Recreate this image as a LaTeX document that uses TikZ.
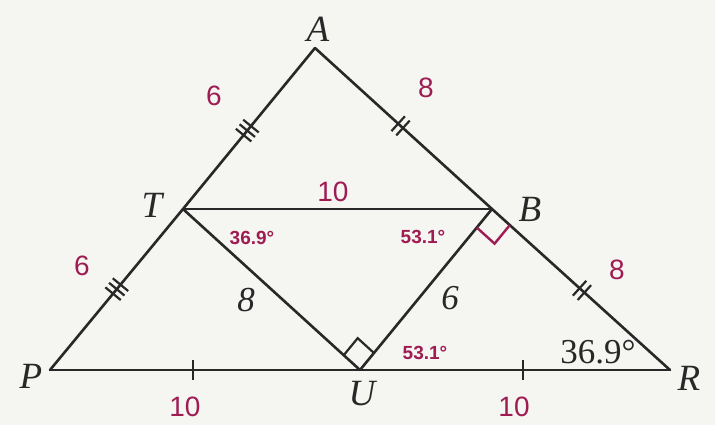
\documentclass[tikz,border=0pt]{standalone}
\usepackage{fontspec}
\setmainfont{Liberation Serif}
\newfontfamily\hand{Liberation Sans}
\usetikzlibrary{calc}
\definecolor{bgc}{RGB}{245,245,242}
\definecolor{ink}{RGB}{40,40,40}
\definecolor{pen}{RGB}{158,28,82}
\tikzset{
  seg/.style={draw=ink, line width=2.6pt, line cap=round, line join=miter},
  tickmark/.style={draw=ink, line width=2.2pt},
  lbl/.style={text=ink, font=\fontsize{37}{42}\selectfont\itshape, inner sep=0pt},
  num/.style={text=ink, font=\fontsize{35}{40}\selectfont, inner sep=0pt},
  hw/.style={text=pen, font=\hand\fontsize{28}{30}\selectfont, inner sep=0pt},
  hwsmall/.style={text=pen, font=\hand\bfseries\fontsize{19}{22}\selectfont, inner sep=0pt},
}
\newcommand{\tickat}[3]{%
  \draw[tickmark] ($(#2)!#1!(#3)!10pt!90:(#3)$) -- ($(#2)!#1!(#3)!10pt!-90:(#3)$);}
\begin{document}
\begin{tikzpicture}[x=1pt,y=-1pt]
\fill[bgc] (0,0) rectangle (715,425);
\useasboundingbox (0,0) rectangle (715,425);
% vertices
\coordinate (A) at (315,48);
\coordinate (T) at (183,209);
\coordinate (B) at (492,209);
\coordinate (P) at (50,370);
\coordinate (U) at (360,370);
\coordinate (R) at (670,370);
% edges
\draw[seg] (A) -- (T);
\draw[seg] (T) -- (P);
\draw[seg] (A) -- (B);
\draw[seg] (B) -- (R);
\draw[seg] (P) -- (U);
\draw[seg] (U) -- (R);
\draw[seg] (T) -- (B);
\draw[seg] (T) -- (U);
\draw[seg] (U) -- (B);
% tick marks
\foreach \t in {0.485,0.513,0.541} {\tickat{\t}{A}{T}}
\foreach \t in {0.47,0.498,0.526} {\tickat{\t}{T}{P}}
\foreach \t in {0.47,0.497} {\tickat{\t}{A}{B}}
\foreach \t in {0.492,0.519} {\tickat{\t}{B}{R}}
\tickat{0.461}{P}{U}
\tickat{0.526}{U}{R}
% right angle at U (black)
\coordinate (u1) at ($(U)!22pt!(T)$);
\coordinate (u2) at ($(U)!22pt!(B)$);
\draw[ink, line width=2.2pt] (u1) -- ($(u1)+(u2)-(U)$) -- (u2);
% right angle at B (magenta)
\coordinate (b1) at ($(B)!24pt!(U)$);
\coordinate (b2) at ($(B)!24pt!(R)$);
\draw[pen, line width=2.4pt] (b1) -- ($(b1)+(b2)-(B)$) -- (b2);
% vertex labels
\node[lbl] (lA) at (318,29) {A};
\node[lbl] (lT) at (152,205) {T};
\node[lbl] (lB) at (530,209) {B};
\node[lbl] (lP) at (31,376) {P};
\node[lbl] (lU) at (362,394) {U};
\node[lbl] (lR) at (689,378) {R};
% printed numbers
\node[num, font=\fontsize{35}{40}\selectfont\itshape] (n8) at (246,300) {8};
\node[num, font=\fontsize{35}{40}\selectfont\itshape] (n6) at (450,298) {6};
\node[num] (nang) at (598,352) {36.9°};
% handwritten
\node[hw] (h1) at (214,96) {6};
\node[hw] (h2) at (426,88) {8};
\node[hw] (h3) at (333,192) {10};
\node[hw] (h4) at (82,266) {6};
\node[hw] (h5) at (617,270) {8};
\node[hw] (h6) at (185,407) {10};
\node[hw] (h7) at (514,407) {10};
\node[hwsmall] (h8) at (252,238) {36.9°};
\node[hwsmall] (h9) at (423,237) {53.1°};
\node[hwsmall] (h10) at (425,353) {53.1°};
\end{tikzpicture}
\end{document}
